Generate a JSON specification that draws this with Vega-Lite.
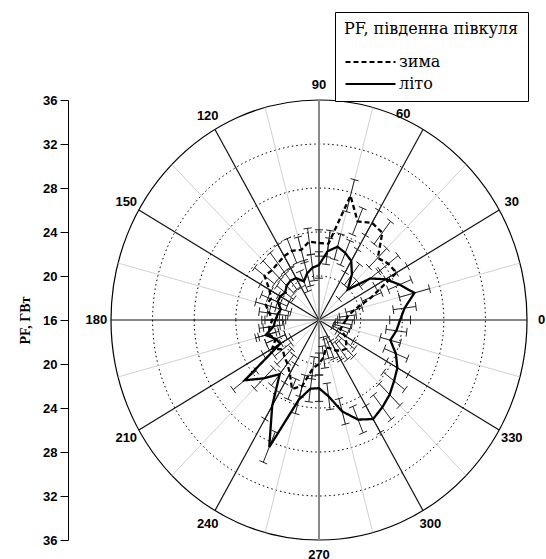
{
"$schema": "https://vega.github.io/schema/vega-lite/v6.json",
"width": 416, "height": 440,
"autosize": {"type": "none"},
"padding": {"left": 111, "top": 100, "right": 19, "bottom": 19},
"config": {"view": {"stroke": null}, "font": "Liberation Sans"},
"datasets": {
"pf": [
{"s":"літо","a":0,"v":23.8,"e":1.0},{"s":"літо","a":7.5,"v":24.3,"e":1.1},{"s":"літо","a":15,"v":25.5,"e":1.5},{"s":"літо","a":22.5,"v":24.4,"e":1.2},{"s":"літо","a":30,"v":23.4,"e":1.2},{"s":"літо","a":37.5,"v":22.2,"e":1.2},{"s":"літо","a":45,"v":19.9,"e":1.2},{"s":"літо","a":52.5,"v":21.2,"e":1.2},{"s":"літо","a":60,"v":22.2,"e":1.2},{"s":"літо","a":67.5,"v":22.6,"e":1.2},{"s":"літо","a":75,"v":22.9,"e":1.2},{"s":"літо","a":82.5,"v":22.3,"e":1.2},
{"s":"літо","a":90,"v":21.0,"e":1.2},{"s":"літо","a":97.5,"v":20.8,"e":1.2},{"s":"літо","a":105,"v":20.4,"e":1.2},{"s":"літо","a":112.5,"v":19.8,"e":1.0},{"s":"літо","a":120,"v":20.4,"e":1.0},{"s":"літо","a":127.5,"v":20.5,"e":1.0},{"s":"літо","a":135,"v":20.4,"e":1.0},{"s":"літо","a":142.5,"v":20.1,"e":1.0},{"s":"літо","a":150,"v":20.3,"e":1.0},{"s":"літо","a":157.5,"v":20.3,"e":1.0},{"s":"літо","a":165,"v":19.8,"e":1.0},{"s":"літо","a":172.5,"v":20.0,"e":1.0},
{"s":"літо","a":180,"v":20.2,"e":1.0},{"s":"літо","a":187.5,"v":20.4,"e":1.0},{"s":"літо","a":195,"v":21.3,"e":1.0},{"s":"літо","a":202.5,"v":20.5,"e":1.0},{"s":"літо","a":210,"v":20.3,"e":1.2},{"s":"літо","a":217.5,"v":25.0,"e":1.4},{"s":"літо","a":225,"v":23.5,"e":1.3},{"s":"літо","a":232.5,"v":22.2,"e":1.3},{"s":"літо","a":240,"v":25.0,"e":1.4},{"s":"літо","a":247.5,"v":28.5,"e":1.5},{"s":"літо","a":255,"v":23.5,"e":1.3},{"s":"літо","a":262.5,"v":22.3,"e":1.2},
{"s":"літо","a":270,"v":22.2,"e":1.2},{"s":"літо","a":277.5,"v":23.0,"e":1.2},{"s":"літо","a":285,"v":24.6,"e":1.2},{"s":"літо","a":292.5,"v":25.8,"e":1.3},{"s":"літо","a":300,"v":26.4,"e":1.4},{"s":"літо","a":307.5,"v":26.0,"e":1.4},{"s":"літо","a":315,"v":25.6,"e":1.4},{"s":"літо","a":322.5,"v":25.1,"e":1.3},{"s":"літо","a":330,"v":24.7,"e":1.2},{"s":"літо","a":337.5,"v":24.0,"e":1.2},{"s":"літо","a":345,"v":23.1,"e":1.0},{"s":"літо","a":352.5,"v":23.5,"e":1.0},
{"s":"зима","a":0,"v":18.6,"e":0.8},{"s":"зима","a":7.5,"v":18.8,"e":0.8},{"s":"зима","a":15,"v":19.5,"e":0.8},{"s":"зима","a":22.5,"v":21.5,"e":1.0},{"s":"зима","a":30,"v":24.6,"e":1.2},{"s":"зима","a":37.5,"v":24.4,"e":1.2},{"s":"зима","a":45,"v":24.0,"e":1.2},{"s":"зима","a":52.5,"v":26.0,"e":1.3},{"s":"зима","a":60,"v":26.2,"e":1.3},{"s":"зима","a":67.5,"v":25.7,"e":1.3},{"s":"зима","a":75,"v":27.7,"e":1.5},{"s":"зима","a":82.5,"v":23.0,"e":1.2},
{"s":"зима","a":90,"v":23.0,"e":1.2},{"s":"зима","a":97.5,"v":23.2,"e":1.2},{"s":"зима","a":105,"v":22.6,"e":1.2},{"s":"зима","a":112.5,"v":22.8,"e":1.2},{"s":"зима","a":120,"v":22.7,"e":1.2},{"s":"зима","a":127.5,"v":22.5,"e":1.2},{"s":"зима","a":135,"v":22.4,"e":1.2},{"s":"зима","a":142.5,"v":22.6,"e":1.2},{"s":"зима","a":150,"v":21.5,"e":1.0},{"s":"зима","a":157.5,"v":21.0,"e":1.0},{"s":"зима","a":165,"v":21.3,"e":1.0},{"s":"зима","a":172.5,"v":20.8,"e":1.0},
{"s":"зима","a":180,"v":20.5,"e":1.0},{"s":"зима","a":187.5,"v":20.8,"e":1.0},{"s":"зима","a":195,"v":21.0,"e":1.0},{"s":"зима","a":202.5,"v":20.5,"e":1.0},{"s":"зима","a":210,"v":21.2,"e":1.0},{"s":"зима","a":217.5,"v":20.4,"e":1.0},{"s":"зима","a":225,"v":20.7,"e":1.0},{"s":"зима","a":232.5,"v":21.0,"e":1.0},{"s":"зима","a":240,"v":21.6,"e":1.0},{"s":"зима","a":247.5,"v":22.8,"e":1.0},{"s":"зима","a":255,"v":22.2,"e":1.0},{"s":"зима","a":262.5,"v":20.4,"e":1.0},
{"s":"зима","a":270,"v":20.0,"e":1.0},{"s":"зима","a":277.5,"v":19.4,"e":1.0},{"s":"зима","a":285,"v":18.6,"e":1.0},{"s":"зима","a":292.5,"v":18.8,"e":1.0},{"s":"зима","a":300,"v":19.2,"e":1.0},{"s":"зима","a":307.5,"v":19.5,"e":1.0},{"s":"зима","a":315,"v":19.7,"e":1.0},{"s":"зима","a":322.5,"v":19.3,"e":1.0},{"s":"зима","a":330,"v":18.9,"e":0.9},{"s":"зима","a":337.5,"v":18.2,"e":0.8},{"s":"зима","a":345,"v":18.3,"e":0.8},{"s":"зима","a":352.5,"v":18.4,"e":0.8}
],
"spokes": [{"a":0},{"a":15},{"a":30},{"a":45},{"a":60},{"a":75},{"a":90},{"a":105},{"a":120},{"a":135},{"a":150},{"a":165},{"a":180},{"a":195},{"a":210},{"a":225},{"a":240},{"a":255},{"a":270},{"a":285},{"a":300},{"a":315},{"a":330},{"a":345}],
"rings": [{"r":20},{"r":24},{"r":28},{"r":32}],
"outer": [{"r":36}],
"labels": [{"a":0},{"a":30},{"a":90},{"a":120},{"a":150},{"a":180},{"a":210},{"a":240},{"a":270},{"a":300},{"a":330}],
"label60": [{"a":60}]
},
"layer": [
{
"data": {"name": "rings"},
"transform": [{"calculate": "pow(22*(datum.r-16),2)", "as": "sz"}, {"calculate": "0", "as": "c"}],
"mark": {"type": "point", "shape": "M -0.9455 0 A 0.9455 1 0 1 0 0.9455 0 A 0.9455 1 0 1 0 -0.9455 0 Z", "filled": false, "stroke": "black", "strokeWidth": 1, "strokeDash": [1.5, 3], "opacity": 1},
"encoding": {
"x": {"field": "c", "type": "quantitative", "scale": {"domain": [-20, 20], "nice": false, "zero": false}, "axis": null},
"y": {"field": "c", "type": "quantitative", "scale": {"domain": [-20, 20], "nice": false, "zero": false},
"axis": {"offset": 43, "values": [-20,-18,-16,-14,-12,-10,-8,-6,-4,-2,0,2,4,6,8,10,12,14,16,18,20],
"labelExpr": "abs(datum.value) % 4 == 0 ? '' + (abs(datum.value) + 16) : ''",
"title": "PF, ГВт", "titleFont": "Liberation Serif", "titleFontSize": 14, "titleFontWeight": "bold", "titlePadding": 10, "titleColor": "black",
"labelFont": "Liberation Sans", "labelFontSize": 13, "labelFontWeight": "bold", "labelColor": "black", "labelPadding": 3,
"tickSize": {"condition": {"test": "abs(datum.value) % 4 == 0", "value": 8}, "value": 5},
"tickColor": "black", "domainColor": "black", "grid": false, "labelFlush": false, "labelOverlap": false}},
"size": {"field": "sz", "type": "quantitative", "scale": null}
}
},
{
"data": {"name": "outer"},
"transform": [{"calculate": "pow(22*(datum.r-16),2)", "as": "sz"}, {"calculate": "0", "as": "c"}],
"mark": {"type": "point", "shape": "M -0.9455 0 A 0.9455 1 0 1 0 0.9455 0 A 0.9455 1 0 1 0 -0.9455 0 Z", "filled": false, "stroke": "black", "strokeWidth": 1.2, "opacity": 1},
"encoding": {
"x": {"field": "c", "type": "quantitative"},
"y": {"field": "c", "type": "quantitative"},
"size": {"field": "sz", "type": "quantitative", "scale": null}
}
},
{
"data": {"name": "spokes"},
"transform": [
{"calculate": "0", "as": "x1"},
{"calculate": "0", "as": "y1"},
{"calculate": "20*cos(datum.a*PI/180)", "as": "x2"},
{"calculate": "20*sin(datum.a*PI/180)", "as": "y2"}
],
"mark": {"type": "rule"},
"encoding": {
"x": {"field": "x1", "type": "quantitative"},
"y": {"field": "y1", "type": "quantitative"},
"x2": {"field": "x2"},
"y2": {"field": "y2"},
"color": {"condition": [{"test": "datum.a == 90 || datum.a == 270", "value": "#8a8a8a"}, {"test": "datum.a % 30 == 0", "value": "#111111"}], "value": "#c4c4c4"},
"strokeWidth": {"condition": [{"test": "datum.a == 90 || datum.a == 270", "value": 2}, {"test": "datum.a % 30 == 0", "value": 1.2}], "value": 0.8}
}
},
{
"data": {"name": "pf"},
"transform": [
{"calculate": "datum.a*PI/180", "as": "t"},
{"calculate": "max(datum.v-datum.e-16,0)", "as": "lo"},
{"calculate": "datum.v+datum.e-16", "as": "hi"},
{"calculate": "datum.lo*cos(datum.t)", "as": "x1"},
{"calculate": "datum.lo*sin(datum.t)", "as": "y1"},
{"calculate": "datum.hi*cos(datum.t)", "as": "x2"},
{"calculate": "datum.hi*sin(datum.t)", "as": "y2"}
],
"mark": {"type": "rule", "color": "#222222", "strokeWidth": 1},
"encoding": {
"x": {"field": "x1", "type": "quantitative"},
"y": {"field": "y1", "type": "quantitative"},
"x2": {"field": "x2"},
"y2": {"field": "y2"}
}
},
{
"data": {"name": "pf"},
"transform": [
{"calculate": "datum.a*PI/180", "as": "t"},
{"calculate": "datum.v+datum.e-16", "as": "hi"},
{"calculate": "datum.hi*cos(datum.t) - 0.4*sin(datum.t)", "as": "x1"},
{"calculate": "datum.hi*sin(datum.t) + 0.4*cos(datum.t)", "as": "y1"},
{"calculate": "datum.hi*cos(datum.t) + 0.4*sin(datum.t)", "as": "x2"},
{"calculate": "datum.hi*sin(datum.t) - 0.4*cos(datum.t)", "as": "y2"}
],
"mark": {"type": "rule", "color": "#222222", "strokeWidth": 1},
"encoding": {
"x": {"field": "x1", "type": "quantitative"},
"y": {"field": "y1", "type": "quantitative"},
"x2": {"field": "x2"},
"y2": {"field": "y2"}
}
},
{
"data": {"name": "pf"},
"transform": [
{"calculate": "datum.a*PI/180", "as": "t"},
{"calculate": "max(datum.v-datum.e-16,0)", "as": "lo"},
{"calculate": "datum.lo*cos(datum.t) - 0.4*sin(datum.t)", "as": "x1"},
{"calculate": "datum.lo*sin(datum.t) + 0.4*cos(datum.t)", "as": "y1"},
{"calculate": "datum.lo*cos(datum.t) + 0.4*sin(datum.t)", "as": "x2"},
{"calculate": "datum.lo*sin(datum.t) - 0.4*cos(datum.t)", "as": "y2"}
],
"mark": {"type": "rule", "color": "#222222", "strokeWidth": 1},
"encoding": {
"x": {"field": "x1", "type": "quantitative"},
"y": {"field": "y1", "type": "quantitative"},
"x2": {"field": "x2"},
"y2": {"field": "y2"}
}
},
{
"data": {"name": "pf"},
"transform": [
{"calculate": "datum.a*PI/180", "as": "t"},
{"calculate": "(datum.v-16)*cos(datum.t)", "as": "px"},
{"calculate": "(datum.v-16)*sin(datum.t)", "as": "py"}
],
"mark": {"type": "line", "interpolate": "linear-closed", "color": "black", "strokeWidth": 2.3},
"encoding": {
"x": {"field": "px", "type": "quantitative"},
"y": {"field": "py", "type": "quantitative"},
"order": {"field": "a", "type": "quantitative"},
"strokeDash": {"field": "s", "type": "nominal",
"scale": {"domain": ["зима", "літо"], "range": [[5, 3], [1, 0]]},
"legend": {"title": "PF, південна півкуля", "orient": "none", "legendX": 224, "legendY": -88,
"symbolType": "stroke", "symbolSize": 2500, "symbolStrokeWidth": 2.2, "symbolStrokeColor": "black",
"clipHeight": 16,
"labelFont": "DejaVu Serif", "labelFontSize": 16, "labelColor": "black", "labelOffset": 2,
"titleFont": "DejaVu Serif", "titleFontSize": 16, "titleFontWeight": "normal", "titleColor": "black", "titleLimit": 300, "titlePadding": 17,
"strokeColor": "black", "fillColor": "white", "padding": 9, "rowPadding": 6}}
}
},
{
"data": {"name": "labels"},
"transform": [
{"calculate": "21.4*cos(datum.a*PI/180)", "as": "lx"},
{"calculate": "21.4*sin(datum.a*PI/180)", "as": "ly"}
],
"mark": {"type": "text", "font": "Liberation Sans", "fontSize": 13, "fontWeight": "bold", "align": "center", "baseline": "middle", "color": "black"},
"encoding": {
"x": {"field": "lx", "type": "quantitative"},
"y": {"field": "ly", "type": "quantitative"},
"text": {"field": "a", "type": "quantitative"}
}
},
{
"data": {"name": "label60"},
"transform": [
{"calculate": "21.4*cos(datum.a*PI/180)", "as": "lx"},
{"calculate": "21.4*sin(datum.a*PI/180)", "as": "ly"}
],
"mark": {"type": "text", "font": "Liberation Sans", "fontSize": 13, "fontWeight": "bold", "align": "center", "baseline": "middle", "color": "black", "dx": -27, "dy": -2},
"encoding": {
"x": {"field": "lx", "type": "quantitative"},
"y": {"field": "ly", "type": "quantitative"},
"text": {"field": "a", "type": "quantitative"}
}
}
]
}
